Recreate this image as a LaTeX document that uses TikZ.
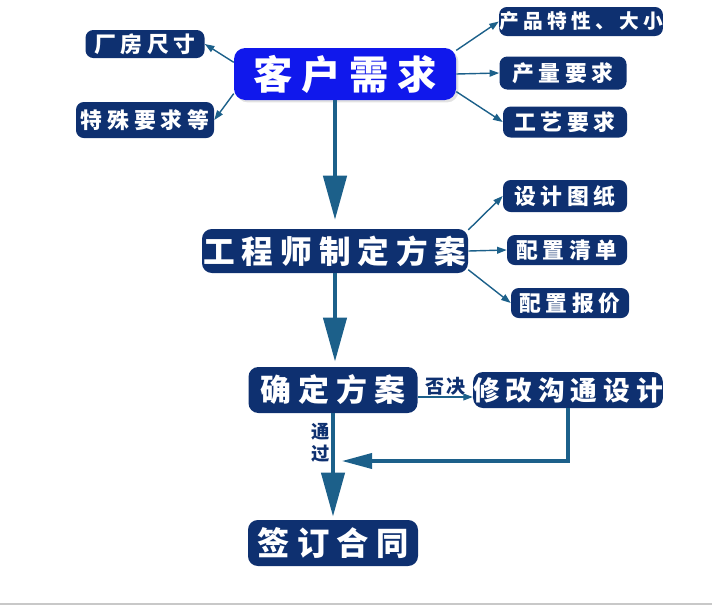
\documentclass[tikz,border=0pt]{standalone}
\usepackage{fontspec}
\newfontfamily\cjk[LetterSpace=22]{Noto Sans CJK SC}
\newfontfamily\cjkplain[LetterSpace=10]{Noto Sans CJK SC}
\usetikzlibrary{arrows.meta,shadows}
\definecolor{navy}{RGB}{14,48,112}
\definecolor{brightblue}{RGB}{16,24,236}
\definecolor{linecol}{RGB}{28,96,138}
\definecolor{framegray}{RGB}{200,200,200}

\begin{document}
\begin{tikzpicture}[x=0.025cm,y=-0.025cm,
    boxsize/.style 2 args={minimum width=#1*0.025cm,minimum height=#2*0.025cm},
    box/.style={fill=navy,text=white,inner sep=0pt,rounded corners=5.5pt},
    side/.style={box,font=\cjk\bfseries\fontsize{15.5}{17}\selectfont},
    stage/.style={box,rounded corners=7pt,font=\cjk\bfseries\fontsize{22}{24}\selectfont},
    thin/.style={linecol,line width=1pt,-{Triangle[length=0.24cm,width=0.17cm]}},
    bigarrow/.style={linecol,line width=2.8pt,-{Triangle[length=1.1cm,width=0.58cm]}},
    backarrow/.style={linecol,line width=2.2pt,-{Triangle[length=0.75cm,width=0.38cm]}},
    note/.style={text=navy,inner sep=1pt,font=\cjkplain\bfseries\fontsize{13.5}{15}\selectfont}]
  \useasboundingbox (0,0) rectangle (712,606);

  % customer needs
  \node[box,boxsize={222}{52},fill=brightblue,rounded corners=8pt,
        drop shadow={shadow xshift=0.06cm,shadow yshift=-0.06cm,fill=gray!45},
        font=\cjk\bfseries\fontsize{28}{30}\selectfont] (kehu) at (345,74) {客户需求};
  \node[side,boxsize={119}{28}] (changfang) at (145,44) {厂房尺寸};
  \node[side,boxsize={138}{36}] (teshu) at (145,120) {特殊要求等};
  \node[side,boxsize={162}{29},font=\cjk\bfseries\fontsize{14}{16}\selectfont] (chanpin) at (581,21.5) {产品特性、大小};
  \node[side,boxsize={127}{33}] (chanliang) at (563,73) {产量要求};
  \node[side,boxsize={124}{31}] (gongyi) at (565,122) {工艺要求};

  \draw[thin] (kehu.174) -- (changfang.east);
  \draw[thin] (kehu.190) -- (teshu.east);
  \draw[thin] (kehu.12) -- (chanpin.west);
  \draw[thin] (kehu.east) -- (chanliang.west);
  \draw[thin] (kehu.-9) -- (gongyi.west);

  % engineer
  \node[stage,boxsize={266}{44},font=\cjk\bfseries\fontsize{22.5}{24}\selectfont] (gongcheng) at (335,251) {工程师制定方案};
  \node[side,boxsize={124}{32}] (sheji) at (565,196) {设计图纸};
  \node[side,boxsize={120}{30}] (qingdan) at (567,250) {配置清单};
  \node[side,boxsize={118}{30}] (baojia) at (570,303) {配置报价};

  \draw[thin] (gongcheng.9) -- (sheji.west);
  \draw[thin] (gongcheng.east) -- (qingdan.west);
  \draw[thin] (gongcheng.-8) -- (baojia.west);

  % decision
  \node[stage,boxsize={169}{46}] (queding) at (333,390) {确定方案};
  \node[stage,boxsize={188}{36},font=\cjk\bfseries\fontsize{19}{21}\selectfont] (xiugai) at (568,390) {修改沟通设计};
  \node[stage,boxsize={170}{46},font=\cjk\bfseries\fontsize{23}{25}\selectfont] (qianding) at (333,543) {签订合同};

  \draw[bigarrow,shorten >=0.225cm] (kehu.south -| gongcheng.north) -- (gongcheng.north);
  \draw[bigarrow,shorten >=0.13cm] (gongcheng.south) -- (gongcheng.south |- queding.north);
  \draw[bigarrow,shorten >=0.08cm] (queding.south) -- (queding.south |- qianding.north);

  \draw[thin] ([yshift=-0.175cm]queding.east) -- node[note,above=0pt] (foujue) {否决} ([yshift=-0.175cm]xiugai.west);
  \node[note,align=center,font=\cjkplain\bfseries\fontsize{13}{16}\selectfont] (tongguo) at (321,443) {通\\过};

  \coordinate (huiru) at (342,461);
  \draw[backarrow] (xiugai.south) |- (huiru);

  \draw[framegray,line width=1.4pt] (0,604) -- (712,604);
\end{tikzpicture}
\end{document}
